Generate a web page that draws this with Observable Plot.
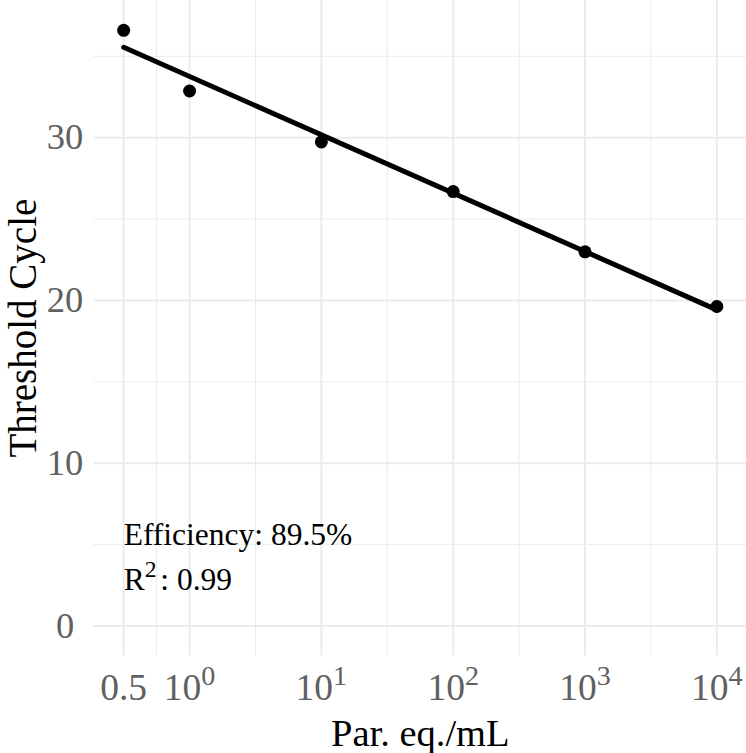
<!DOCTYPE html>
<html>
<head>
<meta charset="utf-8">
<script src="https://cdn.jsdelivr.net/npm/d3@7"></script>
<script src="https://cdn.jsdelivr.net/npm/@observablehq/plot@0.6"></script>
<style>
  html, body { margin: 0; padding: 0; background: #fff; }
  #chart svg { display: block; }
</style>
</head>
<body>
<div id="chart"></div>
<script>
// ---- data ----
const concLabels = ["0.5", "10^0", "10^1", "10^2", "10^3", "10^4"];   // x tick labels
const logPos     = [-0.5, 0, 1, 2, 3, 4];                              // log10 position of each concentration
const thresholdCycle = [36.6, 32.87, 29.74, 26.69, 22.99, 19.63];      // Ct values
const yTicks   = [0, 10, 20, 30];
const yMinor   = [5, 15, 25, 35];
const xMinor   = [-0.25, 0.5, 1.5, 2.5, 3.5];
const annotations = ["Efficiency: 89.5%", "R^2: 0.99"];
const annotationY = [4.95, 2.2];
const xTitle = "Par. eq./mL";
const yTitle = "Threshold Cycle";

// ---- tables built from the arrays ----
const rows = logPos.map((x, i) => ({x, y: thresholdCycle[i]}));
const annRows = annotations.map((t, i) => ({t, y: annotationY[i]}));

// ggplot-style 5% expansion
const xe = d3.extent(logPos);
const xPad = (xe[1] - xe[0]) * 0.05;
const yMax = d3.max(thresholdCycle);
const yPad = yMax * 0.05;

const FONT = "Liberation Serif";
const GRID = "#EBEBEB";
const TICK = "#606060";

const chart = Plot.plot({
  width: 746,
  height: 753,
  marginLeft: 93.5,
  marginRight: 0,
  marginTop: 0,
  marginBottom: 97.7,
  style: {fontFamily: FONT, background: "#fff"},
  x: {type: "linear", domain: [xe[0] - xPad, xe[1] + xPad]},
  y: {domain: [0 - yPad, yMax + yPad]},
  marks: [
    Plot.ruleX(xMinor, {stroke: GRID, strokeWidth: 1}),
    Plot.ruleY(yMinor, {stroke: GRID, strokeWidth: 1}),
    Plot.ruleX(logPos, {stroke: GRID, strokeWidth: 2}),
    Plot.ruleY(yTicks, {stroke: GRID, strokeWidth: 2}),
    Plot.axisX(logPos, {
      tickSize: 0, tickPadding: 18, fontSize: 37.5, color: TICK, label: null,
      tickFormat: d => concLabels[logPos.indexOf(d)]
    }),
    Plot.axisY(yTicks, {
      tickSize: 0, tickPadding: 29, textAnchor: "middle", fontSize: 36.5, color: TICK, label: null
    }),
    Plot.dot(rows, {x: "x", y: "y", r: 6.5, fill: "black", stroke: null}),
    Plot.linearRegressionY(rows, {x: "x", y: "y", ci: 0, stroke: "black", strokeWidth: 5}),
    Plot.text(annRows, {
      x: () => logPos[0], y: "y", text: "t", textAnchor: "start", lineAnchor: "bottom",
      fontSize: 31.5, fontFamily: FONT, fill: "black"
    }),
    Plot.text([xTitle], {
      frameAnchor: "bottom", dy: 89.7, lineAnchor: "bottom", textAnchor: "middle",
      fontSize: 38.5, fontFamily: FONT, fill: "black"
    }),
    Plot.text([yTitle], {
      frameAnchor: "left", dx: -58, rotate: -90, lineAnchor: "bottom", textAnchor: "middle",
      fontSize: 39, fontFamily: FONT, fill: "black"
    })
  ]
});

document.getElementById("chart").appendChild(chart);

// turn "a^b rest" labels into real superscripts
d3.select(chart).selectAll("text").each(function () {
  if (this.querySelector("tspan")) return;
  const s = this.textContent;
  const m = s.match(/^(.*?)\^([^\s:]+)(.*)$/);
  if (!m) return;
  const fs = parseFloat(getComputedStyle(this).fontSize);
  const shift = fs * 0.42;
  const sel = d3.select(this);
  sel.text(m[1]);
  sel.append("tspan").attr("dy", -shift).attr("font-size", fs * 0.75).text(m[2]);
  if (m[3]) sel.append("tspan").attr("dy", shift).attr("dx", fs * 0.12).text(m[3]);
});
</script>
</body>
</html>
